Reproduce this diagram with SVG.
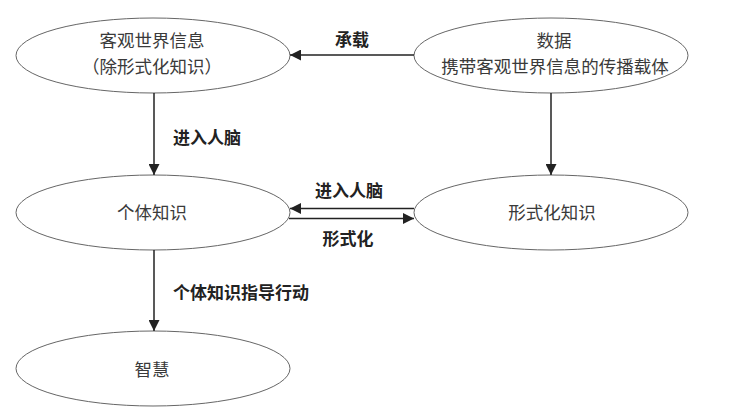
<svg xmlns="http://www.w3.org/2000/svg" width="750" height="418" viewBox="0 0 750 418">
<defs>
<marker id="ah" viewBox="0 0 10 10" refX="10" refY="5" markerWidth="11" markerHeight="11" markerUnits="userSpaceOnUse" orient="auto">
<path d="M0,0 L10,5 L0,10 z" fill="#222"/>
</marker>
<style>
.node ellipse{fill:#fff;stroke:#666;stroke-width:1}
.nt{font-family:"Liberation Serif","Noto Sans CJK SC",serif;font-size:17.5px;fill:#3a3a3a;text-anchor:middle;dominant-baseline:central}
.lb{font-family:"Liberation Sans","Noto Sans CJK SC",sans-serif;font-size:17px;font-weight:600;fill:#222;dominant-baseline:central}
.conn line{stroke:#222;stroke-width:1.5;marker-end:url(#ah)}
</style>
</defs>
<rect width="750" height="418" fill="#fff"/>
<g id="n1" class="node">
<ellipse cx="153" cy="55.5" rx="137" ry="37.5"/>
<text class="nt" x="152" y="41">客观世界信息</text>
<text class="nt" x="152" y="67">（除形式化知识）</text>
</g>
<g id="n2" class="node">
<ellipse cx="551" cy="55.5" rx="137" ry="37.5"/>
<text class="nt" x="554" y="41">数据</text>
<text class="nt" x="555" y="67">携带客观世界信息的传播载体</text>
</g>
<g id="n3" class="node">
<ellipse cx="153" cy="212.5" rx="137" ry="37.5"/>
<text class="nt" x="152" y="213">个体知识</text>
</g>
<g id="n4" class="node">
<ellipse cx="551" cy="212.5" rx="137" ry="37.5"/>
<text class="nt" x="552" y="213">形式化知识</text>
</g>
<g id="n5" class="node">
<ellipse cx="153" cy="368.5" rx="137" ry="37.5"/>
<text class="nt" x="152" y="370">智慧</text>
</g>
<g id="connectors" class="conn">
<line x1="414" y1="55" x2="290" y2="55"/>
<line x1="154" y1="93" x2="154" y2="175"/>
<line x1="551" y1="93" x2="551" y2="175"/>
<line x1="414" y1="208.5" x2="290" y2="208.5"/>
<line x1="289" y1="218.5" x2="414" y2="218.5"/>
<line x1="154" y1="250" x2="154" y2="331"/>
</g>
<g id="labels">
<text class="lb" x="352" y="40" text-anchor="middle">承载</text>
<text class="lb" x="173" y="138">进入人脑</text>
<text class="lb" x="349" y="191" text-anchor="middle">进入人脑</text>
<text class="lb" x="348" y="239" text-anchor="middle">形式化</text>
<text class="lb" x="173" y="293">个体知识指导行动</text>
</g>
</svg>
